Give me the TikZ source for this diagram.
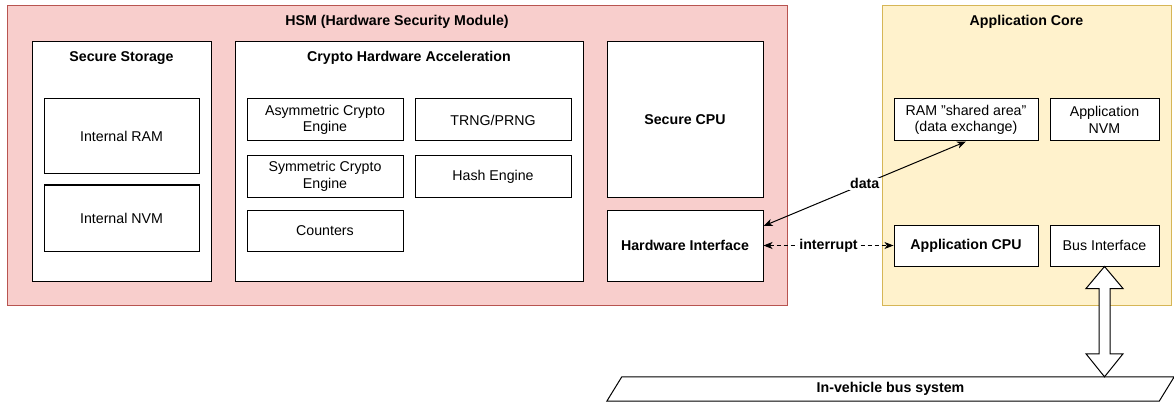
\documentclass[tikz,border=0pt]{standalone}
\usepackage{fontspec}
\setmainfont{Liberation Sans}
\usetikzlibrary{arrows.meta,calc}
\definecolor{hsmfill}{HTML}{F8CECC}
\definecolor{hsmline}{HTML}{B85450}
\definecolor{appfill}{HTML}{FFF2CC}
\definecolor{appline}{HTML}{D6B656}
\begin{document}
\begin{tikzpicture}[x=1pt,y=-1pt,
  txt/.style={font=\fontsize{14.2}{16.5}\selectfont, align=center, inner sep=0pt},
  bold/.style={font=\fontsize{14.2}{16.5}\selectfont\bfseries, align=center, inner sep=0pt},
  frame/.style={draw, line width=1pt, fill=white, inner sep=0pt},
  box/.style={frame, txt},
  boldbox/.style={frame, bold},
  >={Stealth[length=9pt,width=7pt,inset=2.5pt]},
  conn/.style={line width=1pt, <->},
  lbl/.style={bold, fill=white, inner sep=1pt}
]
\useasboundingbox (0,0) rectangle (1174,406);

% HSM block
\node[draw=hsmline, fill=hsmfill, line width=1pt, minimum width=780pt, minimum height=299pt, inner sep=0pt] (hsm) at (397,155.5) {};
\node[bold] (hsmtitle) at (397,22) {HSM (Hardware Security Module)};

% Secure storage
\node[frame, minimum width=179pt, minimum height=239pt] (storage) at (121.5,161.5) {};
\node[bold] (storagetitle) at (121.5,58) {Secure Storage};
\node[box, minimum width=155pt, minimum height=75pt] (iram) at (121.5,136.5) {Internal RAM};
\node[box, minimum width=155pt, minimum height=66pt] (invm) at (121.5,218) {Internal NVM};

% Crypto acceleration
\node[frame, minimum width=348pt, minimum height=239pt] (crypto) at (409,161.5) {};
\node[bold] (cryptotitle) at (409,58) {Crypto Hardware Acceleration};
\node[box, minimum width=156pt, minimum height=42pt] (asym) at (325,120) {Asymmetric Crypto\\Engine};
\node[box, minimum width=156pt, minimum height=42pt] (trng) at (493,120) {TRNG/PRNG};
\node[box, minimum width=156pt, minimum height=41pt] (sym) at (325,176.5) {Symmetric Crypto\\Engine};
\node[box, minimum width=156pt, minimum height=41pt] (hash) at (493,176.5) {Hash Engine};
\node[box, minimum width=156pt, minimum height=41pt] (counters) at (325,230.5) {Counters};

% Secure CPU and its interface
\node[boldbox, minimum width=156pt, minimum height=155pt] (scpu) at (685,119.5) {Secure CPU};
\node[boldbox, minimum width=156pt, minimum height=71pt] (hwif) at (685,245.5) {Hardware Interface};

% Application core
\node[draw=appline, fill=appfill, line width=1pt, minimum width=289pt, minimum height=299pt, inner sep=0pt] (app) at (1026.5,155.5) {};
\node[bold] (apptitle) at (1026.5,22) {Application Core};
\node[box, minimum width=144pt, minimum height=42pt] (ram) at (966,120) {RAM "shared area"\\(data exchange)};
\node[box, minimum width=109pt, minimum height=42pt] (anvm) at (1104.5,120) {Application\\NVM};
\node[boldbox, minimum width=144pt, minimum height=41pt] (acpu) at (966,245.5) {Application CPU};
\node[box, minimum width=109pt, minimum height=41pt] (busif) at (1104.5,245.5) {Bus Interface};

% In-vehicle bus (parallelogram)
\node[bold, minimum width=552pt, minimum height=24pt] (bus) at (890.5,389) {In-vehicle bus system};
\draw[line width=1pt] ([xshift=-7.5pt]bus.south west) -- ([xshift=7.5pt]bus.north west)
  -- ([xshift=7.5pt]bus.north east) -- ([xshift=-7.5pt]bus.south east) -- cycle;

% Connectors
\draw[conn] ([yshift=19.5pt]hwif.east) -- node[lbl] {data} (ram.south);
\draw[conn, dash pattern=on 4pt off 3pt] (hwif.east) -- node[lbl] {interrupt} (acpu.west);

% Wide double arrow between bus interface and bus
\coordinate (at) at (busif.south);
\coordinate (ab) at (busif.south |- bus.north);
\draw[line width=1pt, fill=white, line join=miter]
  (at) -- ($(at)+(18.5,22)$) -- ($(at)+(5.5,22)$) -- ($(ab)+(5.5,-23)$) -- ($(ab)+(18.5,-23)$)
  -- (ab) -- ($(ab)+(-18.5,-23)$) -- ($(ab)+(-5.5,-23)$) -- ($(at)+(-5.5,22)$) -- ($(at)+(-18.5,22)$) -- cycle;
\end{tikzpicture}
\end{document}
